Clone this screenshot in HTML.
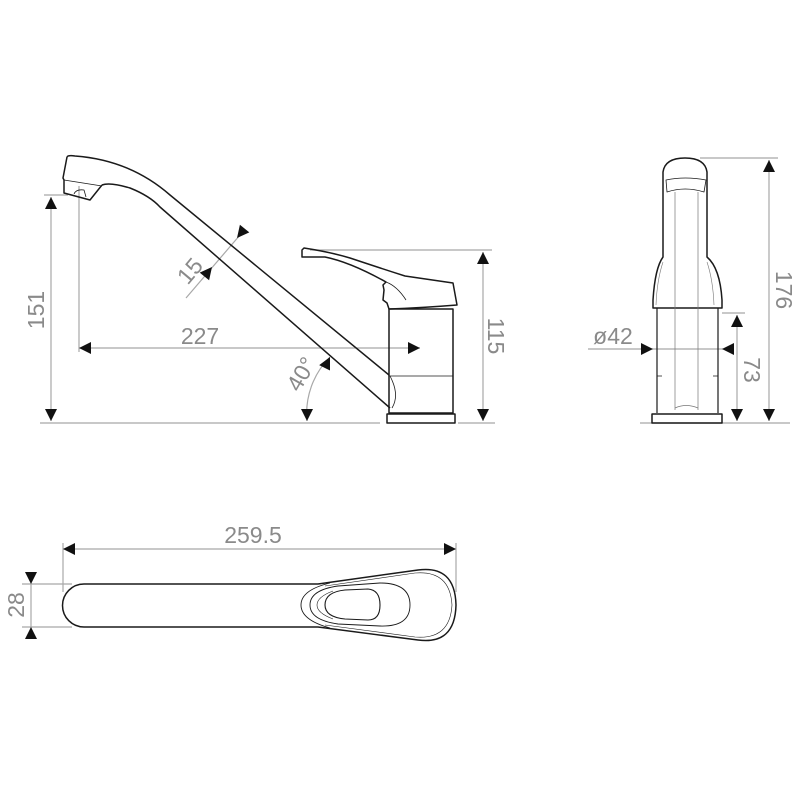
<!DOCTYPE html>
<html><head><meta charset="utf-8"><style>
html,body{margin:0;padding:0;background:#fff;}
svg{display:block}
text{font-family:"Liberation Sans",sans-serif;fill:#8a8a8a;font-size:23px;}
</style></head><body>
<svg width="800" height="800" viewBox="0 0 800 800" xmlns="http://www.w3.org/2000/svg">
<g fill="none" stroke="#a8a8a8" stroke-width="1.2">
<!-- side view dims -->
<line x1="40" y1="423" x2="380" y2="423"/>
<line x1="458" y1="423" x2="495" y2="423"/>
<line x1="44" y1="195" x2="68" y2="195"/>
<line x1="51" y1="197" x2="51" y2="421"/>
<line x1="79" y1="186" x2="79" y2="352"/>
<line x1="79" y1="348" x2="420" y2="348"/>
<line x1="240" y1="235" x2="186" y2="298"/>
<path d="M307,421 A80,80 0 0 1 330,357"/>
<line x1="310" y1="250" x2="492" y2="250"/>
<line x1="483" y1="252" x2="483" y2="421"/>
<!-- front view dims -->
<line x1="700" y1="158" x2="778" y2="158"/>
<line x1="769" y1="160" x2="769" y2="421"/>
<line x1="640" y1="423" x2="790" y2="423"/>
<line x1="722" y1="313" x2="745" y2="313"/>
<line x1="737" y1="315" x2="737" y2="421"/>
<line x1="588" y1="349" x2="734" y2="349"/>
<!-- top view dims -->
<line x1="63" y1="543" x2="63" y2="592"/>
<line x1="456" y1="543" x2="456" y2="592"/>
<line x1="63" y1="549" x2="456" y2="549"/>
<line x1="22" y1="584" x2="72" y2="584"/>
<line x1="22" y1="627" x2="72" y2="627"/>
<line x1="31" y1="572" x2="31" y2="639"/>
</g>
<g fill="#111" stroke="none">
<polygon points="51,197 45,209 57,209"/>
<polygon points="51,421 45,409 57,409"/>
<polygon points="79,348 91,342 91,354"/>
<polygon points="420,348 408,342 408,354"/>
<polygon points="237,238 249.3,232.4 239.9,224.8"/>
<polygon points="212,267 209.1,280.2 199.7,272.6"/>
<polygon points="307,421 301,409 313,409"/>
<polygon points="330,357 330,370.5 319.2,365.1"/>
<polygon points="483,252 477,264 489,264"/>
<polygon points="483,421 477,409 489,409"/>
<polygon points="769,160 763,172 775,172"/>
<polygon points="769,421 763,409 775,409"/>
<polygon points="737,315 731,327 743,327"/>
<polygon points="737,421 731,409 743,409"/>
<polygon points="653,349 641,343 641,355"/>
<polygon points="722,349 734,343 734,355"/>
<polygon points="63,549 75,543 75,555"/>
<polygon points="456,549 444,543 444,555"/>
<polygon points="31,584 25,572 37,572"/>
<polygon points="31,627 25,639 37,639"/>
</g>

<!-- SIDE VIEW -->
<g fill="none" stroke="#1a1a1a" stroke-width="1.5" stroke-linejoin="round">
<path d="M67,157 Q68,155 75,156 Q130,160 170,195 L389,375"/>
<path d="M102,185 Q110,182 130,188 Q150,196 160,207 L390,408"/>
<path d="M67,157 L63,178 L64,180 L64,193 L90,200 L102,185"/>
<path d="M64,180 L102,186" stroke-width="0.8"/>
<path d="M74,194 Q76,189 84,190 L86,197" stroke-width="0.8"/>
<path d="M302,250 L304,248 Q330,252 350,258 Q380,268 405,276 L453,283 L457,305 Q420,308 389,309 L387,303 L383,300 L384,290 L383,285 L386,282 Q350,262 325,257 L302,257 Z"/>
<path d="M386,282 Q397,286 406,300" stroke-width="0.8"/>
<rect x="389" y="309" width="64" height="104"/>
<line x1="389" y1="376" x2="453" y2="376" stroke-width="0.8"/>
<path d="M390,376 Q400,395 392,408" stroke-width="0.8"/>
<rect x="387" y="414" width="68" height="9"/>
</g>

<!-- FRONT VIEW -->
<g fill="none" stroke="#1a1a1a" stroke-width="1.5" stroke-linejoin="round">
<path d="M663,257 L663,172 Q665,158 685,158 Q705,158 707,172 L707,257 Q720,268 722,300 L722,308 L653,308 L653,300 Q655,268 663,257 Z"/>
<path d="M657,308 L657,413 M718,308 L718,413" stroke-width="1.2"/>
<path d="M666,180 Q685,176 706,180 L704,192 Q685,186 667,192 Z" stroke-width="0.8"/>
<path d="M675,192 L675,410 M698,192 L698,410" stroke-width="0.7" stroke="#777"/>
<path d="M675,408 Q686,403 698,408" stroke-width="0.7" stroke="#777"/>
<path d="M663,262 Q657,280 656,305 M707,262 Q713,280 714,305" stroke-width="0.6" stroke="#777"/>
<path d="M657,376 L662,376 M713,376 L718,376" stroke-width="0.8"/>
<rect x="652" y="414" width="70" height="9"/>
</g>

<!-- TOP VIEW -->
<g fill="none" stroke="#1a1a1a" stroke-width="1.5" stroke-linejoin="round">
<path d="M84,584 L318,584 L418,570 Q455,565 456,605 Q455,645 418,640 L318,627 L84,627 A21.5,21.5 0 0 1 84,584 Z"/>
<path d="M330,583 Q301,590 301,605 Q301,620 330,628" stroke-width="0.9"/>
<path d="M325,586 L415,573 Q450,570 452,605 Q450,640 415,637 L325,625" stroke-width="0.6"/>
<path d="M338,586 L380,583 Q410,583 410,605 Q410,627 380,626 L338,624 Q310,620 310,605 Q310,590 338,586 Z" stroke-width="0.9"/>
<path d="M333,591 Q317,597 317,605 Q317,613 333,619" stroke-width="0.6"/>
<path d="M345,590 L368,589 Q380,590 380,605 Q380,620 368,620 L345,619 Q325,617 325,605 Q325,592 345,590 Z" stroke-width="1.1"/>
</g>

<!-- labels -->
<text x="200" y="344" text-anchor="middle">227</text>
<text transform="translate(44,310) rotate(-90)" text-anchor="middle">151</text>
<text transform="translate(196,276) rotate(-50)" text-anchor="middle">15</text>
<text transform="translate(308,378) rotate(-60)" text-anchor="middle">40°</text>
<text transform="translate(488,336) rotate(90)" text-anchor="middle">115</text>
<text x="613" y="344" text-anchor="middle">ø42</text>
<text transform="translate(744,370) rotate(90)" text-anchor="middle">73</text>
<text transform="translate(776,290) rotate(90)" text-anchor="middle">176</text>
<text x="253" y="543" text-anchor="middle">259.5</text>
<text transform="translate(24,605) rotate(-90)" text-anchor="middle">28</text>
</svg>
</body></html>
